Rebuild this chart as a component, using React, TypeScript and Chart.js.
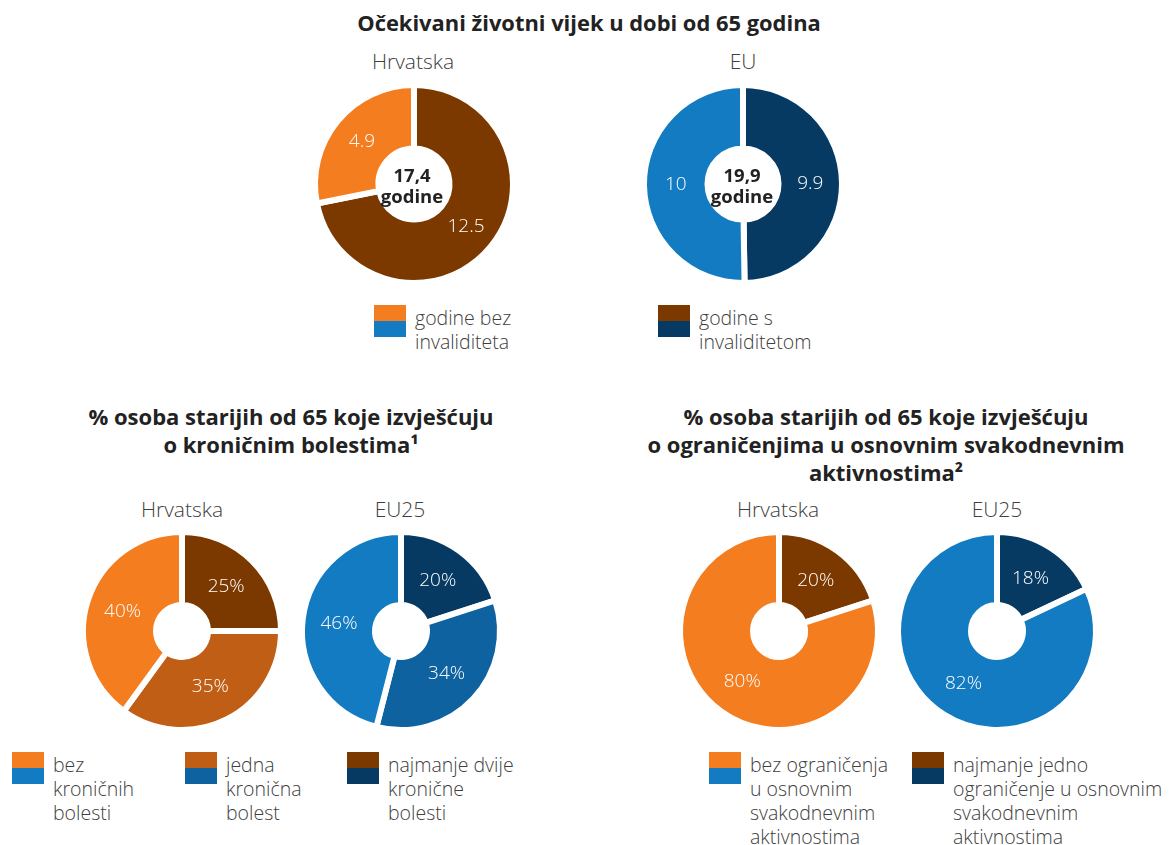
import React, { useEffect, useRef } from "react";
import { Chart, registerables } from "chart.js";

Chart.register(...registerables);

// ---------- data ----------
const mainTitle = "Očekivani životni vijek u dobi od 65 godina";
const lifeLabels = ["godine s invaliditetom", "godine bez invaliditeta"];
const lifeHr = [12.5, 4.9];
const lifeEu = [9.9, 10];
const lifeTotals = ["17,4", "19,9"];

const chronicTitle = ["% osoba starijih od 65 koje izvješćuju", "o kroničnim bolestima¹"];
const chronicLabels = ["najmanje dvije kronične bolesti", "jedna kronična bolest", "bez kroničnih bolesti"];
const chronicHr = [25, 35, 40];
const chronicEu = [20, 34, 46];

const limitTitle = [
  "% osoba starijih od 65 koje izvješćuju",
  "o ograničenjima u osnovnim svakodnevnim",
  "aktivnostima²",
];
const limitLabels = ["najmanje jedno ograničenje u osnovnim svakodnevnim aktivnostima", "bez ograničenja u osnovnim svakodnevnim aktivnostima"];
const limitHr = [20, 80];
const limitEu = [18, 82];

// ---------- style ----------
const FONT = "'Open Sans', 'Noto Sans', sans-serif";
const ORANGE = "#f47d20";
const BROWN = "#7b3900";
const MIDBROWN = "#c05e15";
const BLUE = "#137bc1";
const MIDBLUE = "#0e62a0";
const NAVY = "#063a63";
const GRAY = "#404040";

const labelPlugin = {
  id: "sliceLabels",
  afterDatasetsDraw(chart: any) {
    const { ctx } = chart;
    const meta = chart.getDatasetMeta(0);
    const suffix = chart.options.plugins.sliceLabels?.suffix ?? "";
    ctx.save();
    ctx.fillStyle = "#ffffff";
    ctx.font = `300 19px ${FONT}`;
    ctx.textAlign = "center";
    ctx.textBaseline = "middle";
    meta.data.forEach((arc: any, i: number) => {
      const p = arc.tooltipPosition();
      const v = chart.data.datasets[0].data[i];
      ctx.fillText(String(v) + suffix, p.x, p.y);
    });
    ctx.restore();
  },
};

type DonutProps = {
  cx: number;
  cy: number;
  labels: string[];
  values: number[];
  colors: string[];
  hole: number;
  suffix: string;
};

const SIZE = 224;
const GAP = 6;
const R = 96 + GAP / 2;

function Donut({ cx, cy, labels, values, colors, hole, suffix }: DonutProps) {
  const ref = useRef<HTMLCanvasElement>(null);
  useEffect(() => {
    if (!ref.current) return;
    const pct = ((hole - GAP / 2) / R) * 100;
    const chart = new Chart(ref.current, {
      type: "doughnut",
      data: {
        labels,
        datasets: [
          {
            data: values,
            backgroundColor: colors,
            borderColor: "#ffffff",
            borderWidth: GAP,
            borderJoinStyle: "miter",
            borderAlign: "center",
          },
        ],
      },
      options: {
        responsive: false,
        animation: false,
        radius: R,
        cutout: pct.toFixed(2) + "%",
        layout: { padding: 0 },
        plugins: {
          legend: { display: false },
          tooltip: { enabled: false },
          // @ts-ignore
          sliceLabels: { suffix },
        },
      } as any,
      plugins: [labelPlugin],
    });
    return () => chart.destroy();
  }, []);
  return (
    <canvas
      ref={ref}
      width={SIZE}
      height={SIZE}
      style={{ position: "absolute", left: cx - SIZE / 2, top: cy - SIZE / 2, width: SIZE, height: SIZE }}
    />
  );
}

function Centered({ cx, y, lines, size, weight, color, lh }: any) {
  return (
    <div
      style={{
        position: "absolute",
        left: cx - 300,
        width: 600,
        top: y,
        textAlign: "center",
        fontFamily: FONT,
        fontSize: size,
        fontWeight: weight,
        color,
        lineHeight: lh + "px",
      }}
    >
      {lines.map((l: string, i: number) => (
        <div key={i}>{l}</div>
      ))}
    </div>
  );
}

function Legend({ x, y, top, bottom, lines }: any) {
  return (
    <>
      <div style={{ position: "absolute", left: x, top: y, width: 32, height: 16, background: top }} />
      <div style={{ position: "absolute", left: x, top: y + 16, width: 32, height: 16, background: bottom }} />
      <div
        style={{
          position: "absolute",
          left: x + 41,
          top: y + 1,
          fontFamily: FONT,
          fontWeight: 300,
          fontSize: 19.5,
          lineHeight: "24px",
          color: GRAY,
          whiteSpace: "nowrap",
        }}
      >
        {lines.map((l: string, i: number) => (
          <div key={i}>{l}</div>
        ))}
      </div>
    </>
  );
}

export default function App() {
  return (
    <div style={{ position: "absolute", left: 0, top: 0, width: 1170, height: 845, background: "#fff", overflow: "hidden" }}>
      <Centered cx={589} y={8} lines={[mainTitle]} size={21.9} weight={700} color="#222" lh={30} />
      <Centered cx={413} y={46} lines={["Hrvatska"]} size={21} weight={300} color={GRAY} lh={30} />
      <Centered cx={743} y={46} lines={["EU"]} size={21} weight={300} color={GRAY} lh={30} />

      <Donut cx={414} cy={184} labels={lifeLabels} values={lifeHr} colors={[BROWN, ORANGE]} hole={38.5} suffix="" />
      <Donut cx={743} cy={184} labels={lifeLabels} values={lifeEu} colors={[NAVY, BLUE]} hole={38.5} suffix="" />
      <Centered cx={412} y={164} lines={[lifeTotals[0], "godine"]} size={18.5} weight={700} color="#222" lh={21} />
      <Centered cx={742} y={164} lines={[lifeTotals[1], "godine"]} size={18.5} weight={700} color="#222" lh={21} />

      <Legend x={374} y={305} top={ORANGE} bottom={BLUE} lines={["godine bez", "invaliditeta"]} />
      <Legend x={658} y={305} top={BROWN} bottom={NAVY} lines={["godine s", "invaliditetom"]} />

      <Centered cx={291} y={402} lines={chronicTitle} size={22} weight={700} color="#222" lh={28} />
      <Centered cx={886} y={402} lines={limitTitle} size={22} weight={700} color="#222" lh={28} />

      <Centered cx={182} y={494} lines={["Hrvatska"]} size={21} weight={300} color={GRAY} lh={30} />
      <Centered cx={400} y={494} lines={["EU25"]} size={21} weight={300} color={GRAY} lh={30} />
      <Centered cx={778} y={494} lines={["Hrvatska"]} size={21} weight={300} color={GRAY} lh={30} />
      <Centered cx={997} y={494} lines={["EU25"]} size={21} weight={300} color={GRAY} lh={30} />

      <Donut cx={182} cy={631} labels={chronicLabels} values={chronicHr} colors={[BROWN, MIDBROWN, ORANGE]} hole={29} suffix="%" />
      <Donut cx={401} cy={631} labels={chronicLabels} values={chronicEu} colors={[NAVY, MIDBLUE, BLUE]} hole={29} suffix="%" />
      <Donut cx={779} cy={631} labels={limitLabels} values={limitHr} colors={[BROWN, ORANGE]} hole={29} suffix="%" />
      <Donut cx={997} cy={631} labels={limitLabels} values={limitEu} colors={[NAVY, BLUE]} hole={29} suffix="%" />

      <Legend x={12} y={752} top={ORANGE} bottom={BLUE} lines={["bez", "kroničnih", "bolesti"]} />
      <Legend x={185} y={752} top={MIDBROWN} bottom={MIDBLUE} lines={["jedna", "kronična", "bolest"]} />
      <Legend x={347} y={752} top={BROWN} bottom={NAVY} lines={["najmanje dvije", "kronične", "bolesti"]} />
      <Legend x={709} y={752} top={ORANGE} bottom={BLUE} lines={["bez ograničenja", "u osnovnim", "svakodnevnim", "aktivnostima"]} />
      <Legend x={912} y={752} top={BROWN} bottom={NAVY} lines={["najmanje jedno", "ograničenje u osnovnim", "svakodnevnim", "aktivnostima"]} />
    </div>
  );
}
